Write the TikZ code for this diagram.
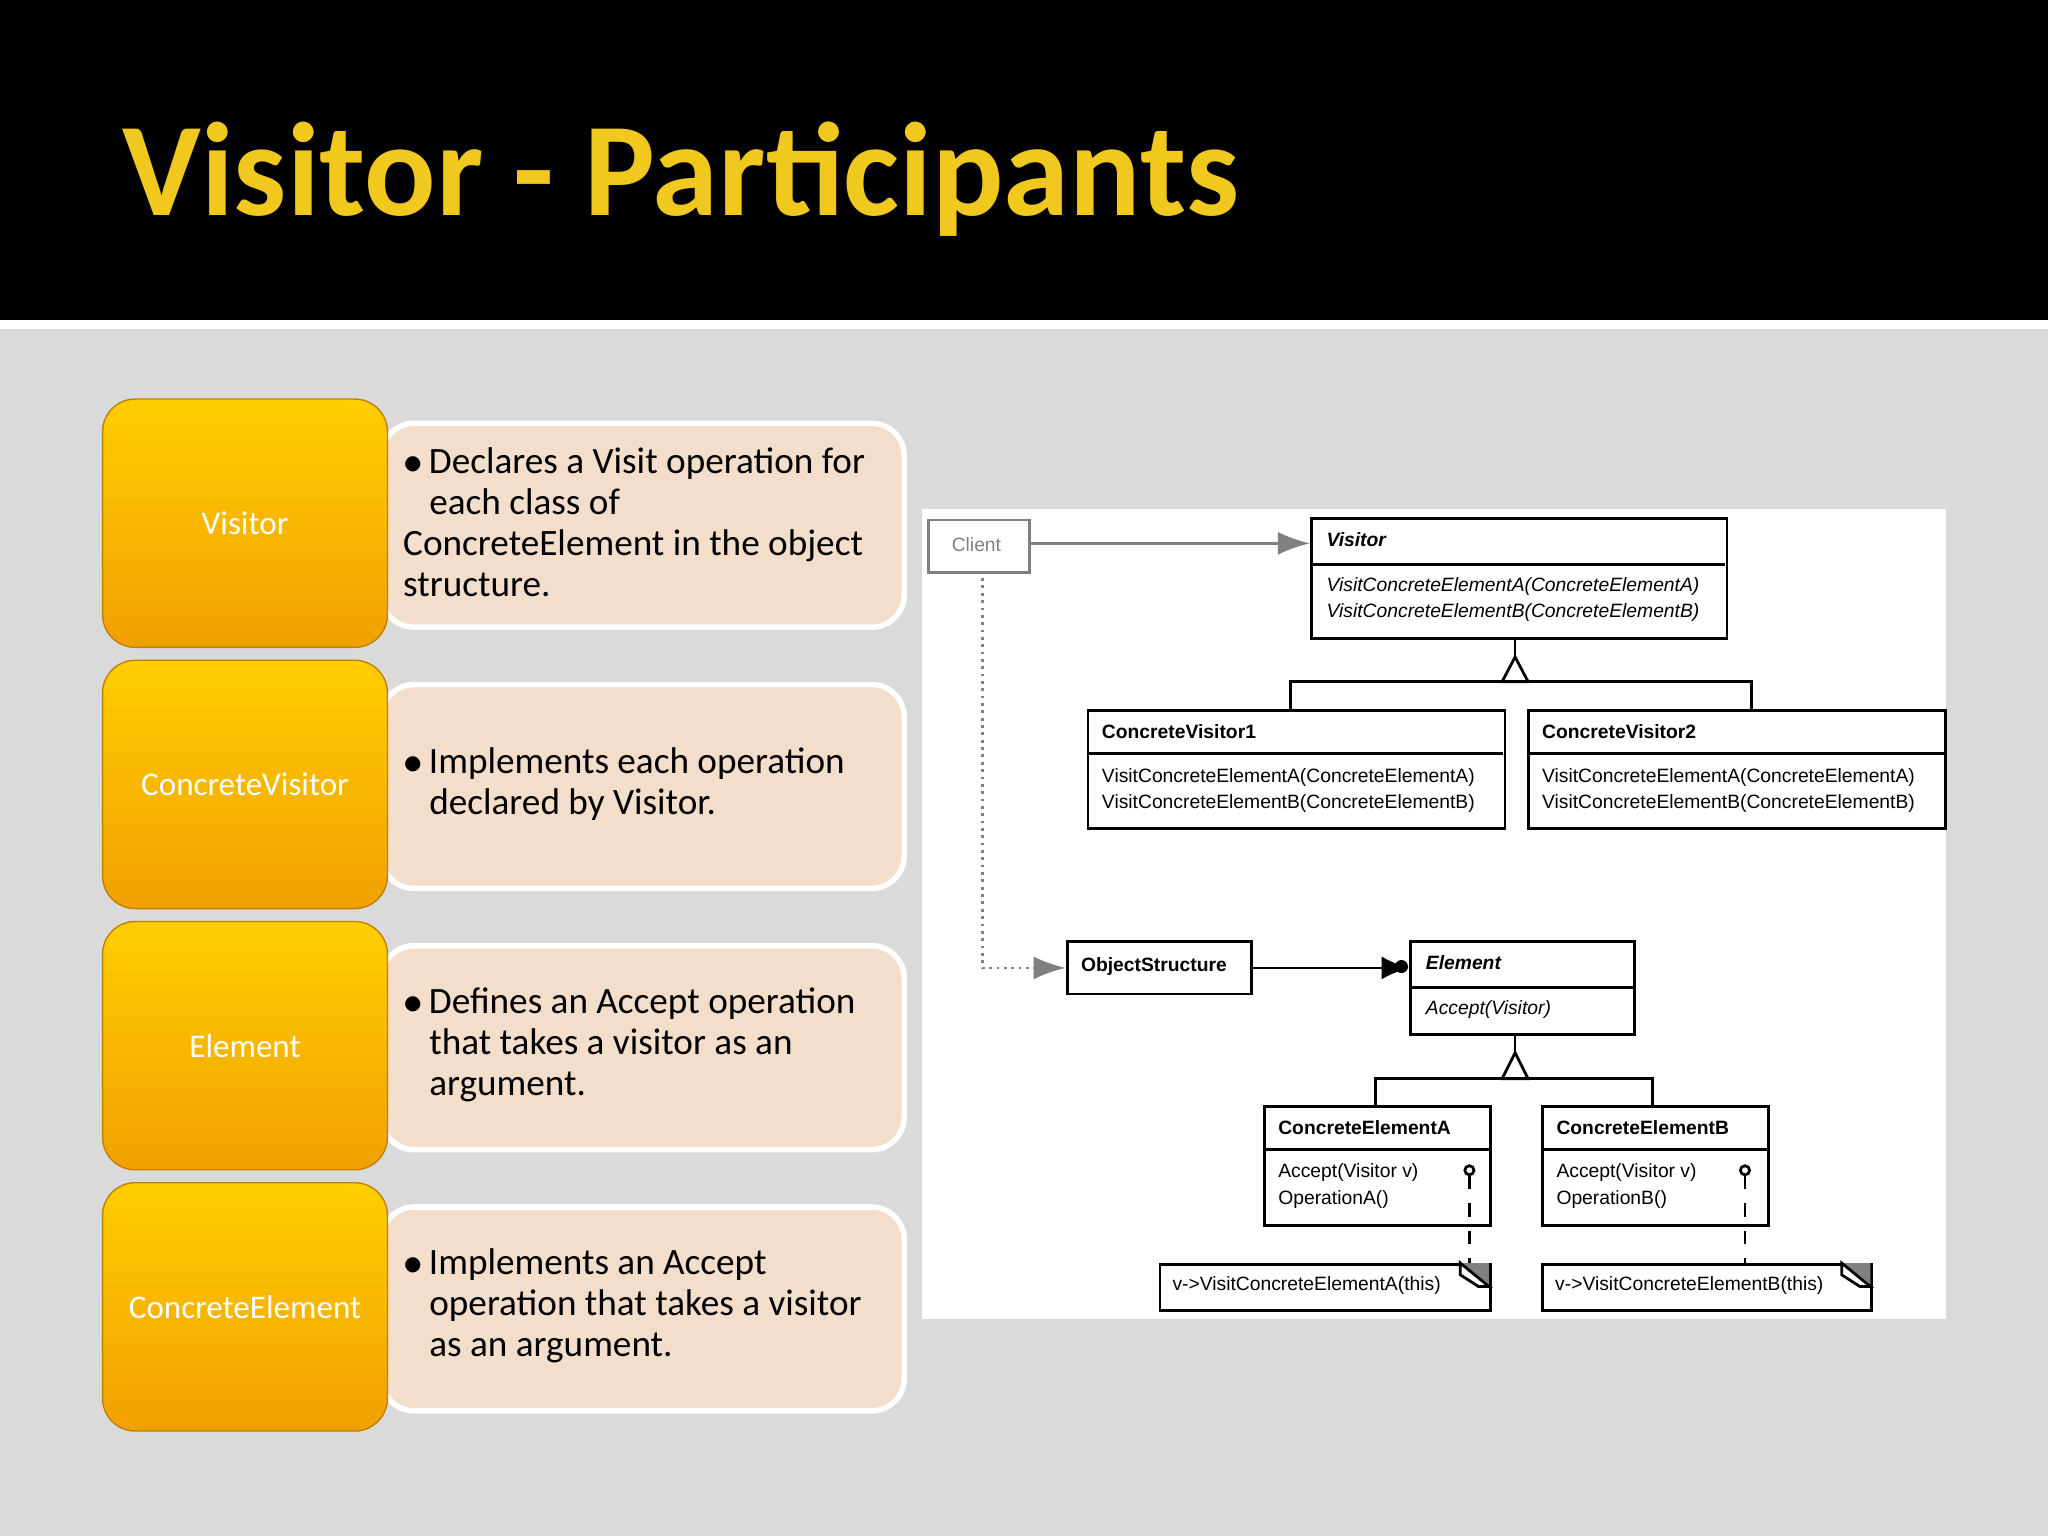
\documentclass[tikz,border=0pt]{standalone}
\usepackage{fontspec}
\setmainfont{Carlito}
\newfontfamily\umlf{Liberation Sans}
\usetikzlibrary{arrows.meta}
\definecolor{ttl}{RGB}{240,200,30}
\definecolor{beige}{RGB}{242,222,202}
\definecolor{orT}{RGB}{255,206,0}
\definecolor{orB}{RGB}{240,160,0}
\definecolor{bg}{RGB}{218,218,218}
\tikzset{
 orbox/.style={rounded corners=0.25cm, top color=orT, bottom color=orB, draw=orB!80!black, line width=0.3pt, anchor=north west, minimum width=2.18cm, text=white, font=\fontsize{7.2}{8}\selectfont},
 bebox/.style={rounded corners=0.25cm, fill=beige, draw=white, line width=1.2pt, anchor=north west, minimum width=4.0cm, minimum height=1.56cm},
 uml/.style={draw=black, line width=0.6pt, anchor=north west, inner sep=0pt},
 ut/.style={anchor=west, inner sep=0pt, font=\umlf\fontsize{4.2}{5}\selectfont},
 ub/.style={ut, font=\umlf\bfseries\fontsize{4.2}{5}\selectfont},
 ln/.style={line width=0.6pt},
}
\begin{document}
\begin{tikzpicture}[x=0.01cm,y=-0.01cm]
\useasboundingbox (0,0) rectangle (1568,1176);
\fill[black] (0,0) rectangle (1568,245);
\fill[white] (0,245) rectangle (1568,252);
\fill[bg] (0,252) rectangle (1568,1176);
\node[anchor=base west, text=ttl, font=\bfseries\fontsize{29}{32}\selectfont, inner sep=0pt] (title) at (93,165) {Visitor - Participants};
% rows
\foreach \i/\y/\nm/\t in {1/305/Visitor/{Declares a Visit operation for each class of\\ConcreteElement in the object structure.},
 2/505/ConcreteVisitor/{Implements each operation declared by Visitor.},
 3/705/Element/{Defines an Accept operation that takes a visitor as an argument.},
 4/905/ConcreteElement/{Implements an Accept operation that takes a visitor as an argument.}}{
 \node[bebox] (b\i) at (290,\y+17) {};
 \node[orbox, minimum height=1.9cm] (o\i) at (78,\y) {\nm};
 \node[anchor=west, inner sep=0pt] (d\i) at (308,\y+95) {\parbox{3.7cm}{\raggedright\fontsize{8.1}{8.9}\selectfont\hangindent=0.2cm\hangafter=1 $\bullet$\,\t}};
}
% UML panel
\fill[white] (706,390) rectangle (1490,1010);
\node[draw=gray, line width=0.6pt, anchor=north west, minimum width=0.77cm, minimum height=0.4cm] (client) at (710,397) {};
\node[ut, text=gray] at (728,417) {Client};
% Visitor
\node[uml, minimum width=3.18cm, minimum height=0.92cm] (visitor) at (1003,396) {};
\draw[ln] (1003,432) -- (1321,432);
\node[ub, font=\umlf\bfseries\itshape\fontsize{4.2}{5}\selectfont] at (1015,413) {Visitor};
\node[ut, font=\umlf\itshape\fontsize{4.2}{5}\selectfont] at (1015,449) {VisitConcreteElementA(ConcreteElementA)};
\node[ut, font=\umlf\itshape\fontsize{4.2}{5}\selectfont] at (1015,469) {VisitConcreteElementB(ConcreteElementB)};
% concrete visitors
\foreach \n/\x/\nm in {cv1/832/ConcreteVisitor1, cv2/1169/ConcreteVisitor2}{
 \node[uml, minimum width=3.19cm, minimum height=0.9cm] (\n) at (\x,543) {};
 \draw[ln] (\x,577) -- (\x+319,577);
 \node[ub] at (\x+11,560) {\nm};
 \node[ut] at (\x+11,595) {VisitConcreteElementA(ConcreteElementA)};
 \node[ut] at (\x+11,615) {VisitConcreteElementB(ConcreteElementB)};
}
\draw[ln] (1160,488) -- (1160,503);
\draw[ln, fill=white] (1160,503) -- (1150,522) -- (1170,522) -- cycle;
\draw[ln] (988,543) |- (1160,522) -| (1341,543);
% client arrows
\draw[gray, line width=0.6pt, -{Latex[length=7pt,width=5pt]}] (client.east|-0,416) -- (visitor.west|-0,416);
% object structure
\node[uml, minimum width=1.41cm, minimum height=0.4cm] (os) at (816,720) {};
\node[ub] at (827,740) {ObjectStructure};
\draw[gray, densely dotted, line width=0.6pt, -{Latex[length=7pt,width=5pt]}] (752,437) |- (os.west);
% element
\node[uml, minimum width=1.71cm, minimum height=0.71cm] (el) at (1079,720) {};
\draw[ln] (1079,756) -- (1250,756);
\node[ub, font=\umlf\bfseries\itshape\fontsize{4.2}{5}\selectfont] at (1091,737) {Element};
\node[ut, font=\umlf\itshape\fontsize{4.2}{5}\selectfont] at (1091,773) {Accept(Visitor)};
\draw[ln, -{Latex[length=6pt,width=5pt]}] (os.east) -- (el.west|-os.east);
\fill (1073,740) circle (5);
% concrete elements
\foreach \n/\x/\nm/\op in {cea/967/ConcreteElementA/OperationA(), ceb/1180/ConcreteElementB/OperationB()}{
 \node[uml, minimum width=1.73cm, minimum height=0.91cm] (\n) at (\x,846) {};
 \draw[ln] (\x,880) -- (\x+173,880);
 \node[ub] at (\x+11,863) {\nm};
 \node[ut] at (\x+11,898) {Accept(Visitor v)};
 \node[ut] at (\x+11,918) {\op};
}
\draw[ln] (1160,791) -- (1160,806);
\draw[ln, fill=white] (1160,806) -- (1150,826) -- (1170,826) -- cycle;
\draw[ln] (1053,846) |- (1160,826) -| (1265,846);
% notes
\foreach \n/\x/\w/\cx/\t in {na/887/253/1125/{v->VisitConcreteElementA(this)}, nb/1180/252/1336/{v->VisitConcreteElementB(this)}}{
 \node[uml, minimum width=\w*0.01cm, minimum height=0.35cm] (\n) at (\x,967) {};
 \node[ut] at (\x+10,984) {\t};
 \fill[gray] (\x+\w-22,967) -- (\x+\w,967) -- (\x+\w,985) -- cycle;
 \draw[ln] (\x+\w-22,967) -- (\x+\w,985) -- (\x+\w-8,985) -- (\x+\w-22,976) -- cycle;
 \draw[ln] (\cx,896) circle (3.5);
 \draw[ln, dashed] (\cx,900) -- (\cx,967);
}
\end{tikzpicture}
\end{document}
